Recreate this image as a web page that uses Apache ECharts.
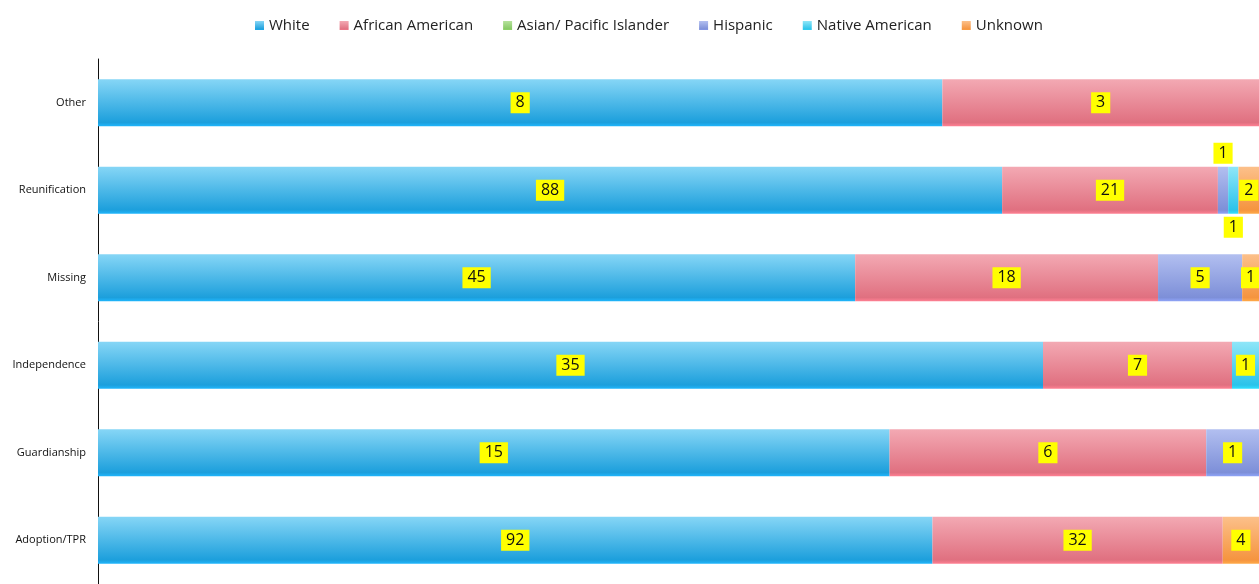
<!DOCTYPE html>
<html>
<head>
<meta charset="utf-8">
<script src="https://cdn.jsdelivr.net/npm/echarts@6/dist/echarts.min.js"></script>
<style>
  html, body { margin: 0; padding: 0; background: #fff; }
  #chart { width: 1259px; height: 584px; }
</style>
</head>
<body>
<div id="chart"></div>
<script>
var categories = ['Adoption/TPR', 'Guardianship', 'Independence', 'Missing', 'Reunification', 'Other'];
var raceNames = ['White', 'African American', 'Asian/ Pacific Islander', 'Hispanic', 'Native American', 'Unknown'];

var white    = [92, 15, 35, 45, 88, 8];
var african  = [32, 6, 7, 18, 21, 3];
var asian    = [0, 0, 0, 0, 0, 0];
var hispanic = [0, 1, 0, 5, 1, 0];
var native   = [0, 0, 1, 0, 1, 0];
var unknown  = [4, 0, 0, 1, 2, 0];

var counts = [white, african, asian, hispanic, native, unknown];

// colours: [top, bottom] of each bar gradient
var colors = [
  ['#86d6f6', '#1c9fdc'],
  ['#f3a9b3', '#e07080'],
  ['#b5e29c', '#86c863'],
  ['#b2bff0', '#7d8fd8'],
  ['#8fe6f8', '#2bc3ea'],
  ['#fcc08a', '#f5943f']
];

// a few small labels sit outside the bar (series index -> category index -> side)
var labelSide = { 3: { 4: 'top' }, 4: { 4: 'bottom' } };

var totals = categories.map(function (c, i) {
  var s = 0;
  counts.forEach(function (arr) { s += arr[i]; });
  return s;
});

var chart = echarts.init(document.getElementById('chart'));

var series = raceNames.map(function (name, k) {
  return {
    name: name,
    type: 'bar',
    stack: 'all',
    barWidth: 47,
    itemStyle: {
      color: new echarts.graphic.LinearGradient(0, 0, 0, 1, [
        { offset: 0, color: colors[k][0] },
        { offset: 0.92, color: colors[k][1] },
        { offset: 1, color: echarts.color.lift(colors[k][1], -0.15) }
      ])
    },
    label: {
      show: true,
      position: 'inside',
      backgroundColor: '#ffff00',
      color: '#111',
      fontSize: 16,
      fontFamily: 'Open Sans',
      padding: [3, 5, 2, 5],
      formatter: function (p) { return counts[k][p.dataIndex]; }
    },
    data: counts[k].map(function (v, i) {
      var item = { value: v === 0 ? null : v / totals[i] * 100 };
      var side = labelSide[k] && labelSide[k][i];
      if (side) item.label = { position: side, distance: 3 };
      return item;
    })
  };
});

chart.setOption({
  backgroundColor: '#fff',
  animation: false,
  legend: {
    top: 13,
    left: 250,
    icon: 'rect',
    itemWidth: 9,
    itemHeight: 9,
    itemGap: 30,
    textStyle: { fontSize: 15, color: '#222', fontFamily: 'Open Sans' },
    data: raceNames
  },
  grid: { left: 98, top: 59, width: 1166, height: 532 },
  xAxis: {
    type: 'value',
    min: 0,
    max: 100,
    show: false
  },
  yAxis: {
    type: 'category',
    data: categories,
    axisLine: { show: true, lineStyle: { color: '#111', width: 1 } },
    axisTick: { show: false },
    axisLabel: { fontSize: 11, color: '#111', margin: 12, fontFamily: 'Open Sans' }
  },
  series: series
});

window.addEventListener('resize', function () { chart.resize(); });
</script>
</body>
</html>
